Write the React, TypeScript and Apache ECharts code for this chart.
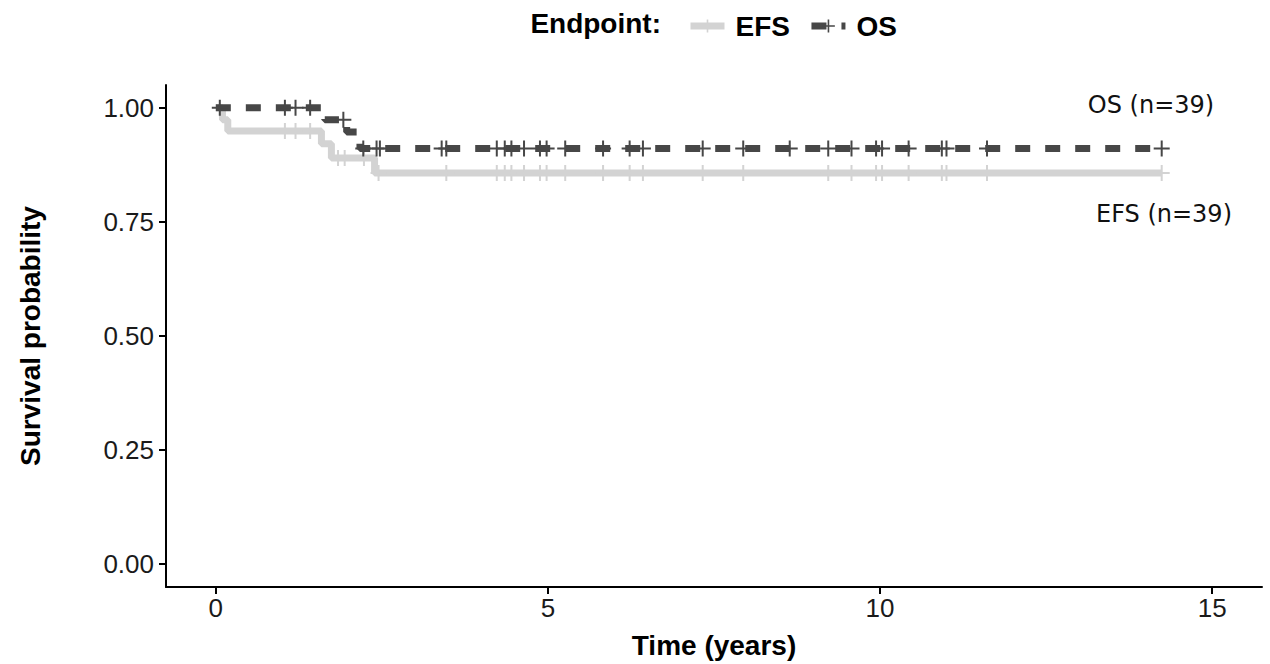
import React, { useEffect, useRef } from "react";
import * as echarts from "echarts";

// Kaplan–Meier step points (time in years, survival probability)
const efsTimes = [0, 0.1, 0.18, 1.59, 1.74, 2.39];
const efsSurv = [1, 0.974, 0.949, 0.921, 0.89, 0.857];
const efsCensor = [1.04, 1.2, 1.42, 1.84, 1.94, 2.23, 2.45, 3.47, 4.23, 4.35, 4.45, 4.64, 4.88, 4.98, 5.26, 5.83, 6.23, 6.43, 7.33, 7.94, 9.22, 9.57, 9.94, 10.03, 10.43, 10.93, 11.0, 11.61, 14.24];

const osTimes = [0, 1.64, 1.97, 2.17];
const osSurv = [1, 0.974, 0.947, 0.911];
const osCensor = [0.06, 1.04, 1.2, 1.42, 1.92, 2.22, 2.42, 2.47, 3.4, 3.47, 4.23, 4.35, 4.45, 4.64, 4.88, 4.98, 5.26, 5.83, 6.23, 6.43, 7.33, 7.94, 8.64, 9.22, 9.57, 9.94, 10.03, 10.43, 10.93, 11.0, 11.61, 14.24];

const xTicks = [0, 5, 10, 15];
const yTicks = [0, 0.25, 0.5, 0.75, 1];
const seriesNames = ["EFS", "OS"];
const annotations = ["OS (n=39)", "EFS (n=39)"];

const PLUS = "path://M-1,-8H1V8H-1Z M-8,-1H8V1H-8Z";

function buildData(times: number[], surv: number[], censor: number[]) {
  const pts: { t: number; s: number; c: boolean }[] = [];
  times.forEach((t, i) => pts.push({ t, s: surv[i], c: false }));
  censor.forEach((t) => {
    let s = surv[0];
    for (let i = 0; i < times.length; i++) if (times[i] <= t) s = surv[i];
    pts.push({ t, s, c: true });
  });
  pts.sort((a, b) => a.t - b.t || (a.c ? 1 : -1));
  return pts.map((p) =>
    p.c ? { value: [p.t, p.s] } : { value: [p.t, p.s], symbol: "none" }
  );
}

export default function App() {
  const ref = useRef<HTMLDivElement>(null);
  useEffect(() => {
    if (!ref.current) return;
    const chart = echarts.init(ref.current, undefined, { renderer: "svg" });
    const axisFont = "Liberation Sans, Arial, sans-serif";
    const efsColor = "#d3d3d3";
    const osColor = "#474747";
    chart.setOption({
      animation: false,
      backgroundColor: "#ffffff",
      grid: { left: 166, right: 8, top: 85, bottom: 77, containLabel: false },
      legend: {
        left: 682,
        top: 7,
        itemWidth: 34,
        itemHeight: 16,
        itemGap: 18,
        data: seriesNames,
        lineStyle: { width: 7 },
        textStyle: {
          fontFamily: axisFont,
          fontSize: 28,
          fontWeight: "bold",
          color: "#000",
          padding: [0, 0, 0, 6],
        },
      },
      xAxis: {
        type: "value",
        min: -0.75,
        max: 15.75,
        name: "Time (years)",
        nameLocation: "middle",
        nameGap: 44,
        nameTextStyle: { fontFamily: axisFont, fontSize: 28, fontWeight: "bold", color: "#000" },
        axisLine: { onZero: false, lineStyle: { color: "#000", width: 2 } },
        axisTick: { length: 7, lineStyle: { color: "#000", width: 2 }, customValues: xTicks },
        axisLabel: { customValues: xTicks, margin: 8, fontFamily: axisFont, fontSize: 26, color: "#1a1a1a" },
        splitLine: { show: false },
      },
      yAxis: {
        type: "value",
        min: -0.05,
        max: 1.05,
        name: "Survival probability",
        nameLocation: "middle",
        nameGap: 122,
        nameTextStyle: { fontFamily: axisFont, fontSize: 28, fontWeight: "bold", color: "#000" },
        axisLine: { onZero: false, lineStyle: { color: "#000", width: 2 } },
        axisTick: { length: 7, lineStyle: { color: "#000", width: 2 }, customValues: yTicks },
        axisLabel: {
          customValues: yTicks,
          margin: 12,
          fontFamily: axisFont,
          fontSize: 26,
          color: "#1a1a1a",
          formatter: (v: number) => v.toFixed(2),
        },
        splitLine: { show: false },
      },
      series: [
        {
          name: "EFS",
          type: "line",
          step: "end",
          data: buildData(efsTimes, efsSurv, efsCensor),
          symbol: PLUS,
          symbolSize: 16,
          showSymbol: true,
          lineStyle: { color: efsColor, width: 7, cap: "butt" },
          itemStyle: { color: efsColor },
          z: 2,
        },
        {
          name: "OS",
          type: "line",
          step: "end",
          data: buildData(osTimes, osSurv, osCensor),
          symbol: PLUS,
          symbolSize: 16,
          showSymbol: true,
          lineStyle: { color: osColor, width: 7, type: [15, 15], cap: "butt" },
          itemStyle: { color: osColor },
          z: 3,
        },
      ],
      graphic: [
        {
          type: "text",
          x: 661,
          y: 23,
          style: {
            text: "Endpoint:",
            fontFamily: axisFont,
            fontSize: 28,
            fontWeight: "bold",
            fill: "#000",
            textAlign: "right",
            textVerticalAlign: "middle",
          },
        },
        {
          type: "text",
          x: 1151,
          y: 105,
          style: {
            text: annotations[0],
            fontFamily: "DejaVu Sans, sans-serif",
            fontSize: 24,
            fill: "#111",
            textAlign: "center",
            textVerticalAlign: "middle",
          },
        },
        {
          type: "text",
          x: 1164,
          y: 214,
          style: {
            text: annotations[1],
            fontFamily: "DejaVu Sans, sans-serif",
            fontSize: 24,
            fill: "#111",
            textAlign: "center",
            textVerticalAlign: "middle",
          },
        },
      ],
    });
    return () => chart.dispose();
  }, []);
  return (
    <div
      ref={ref}
      style={{ position: "absolute", left: 0, top: 0, width: 1270, height: 664 }}
    />
  );
}
